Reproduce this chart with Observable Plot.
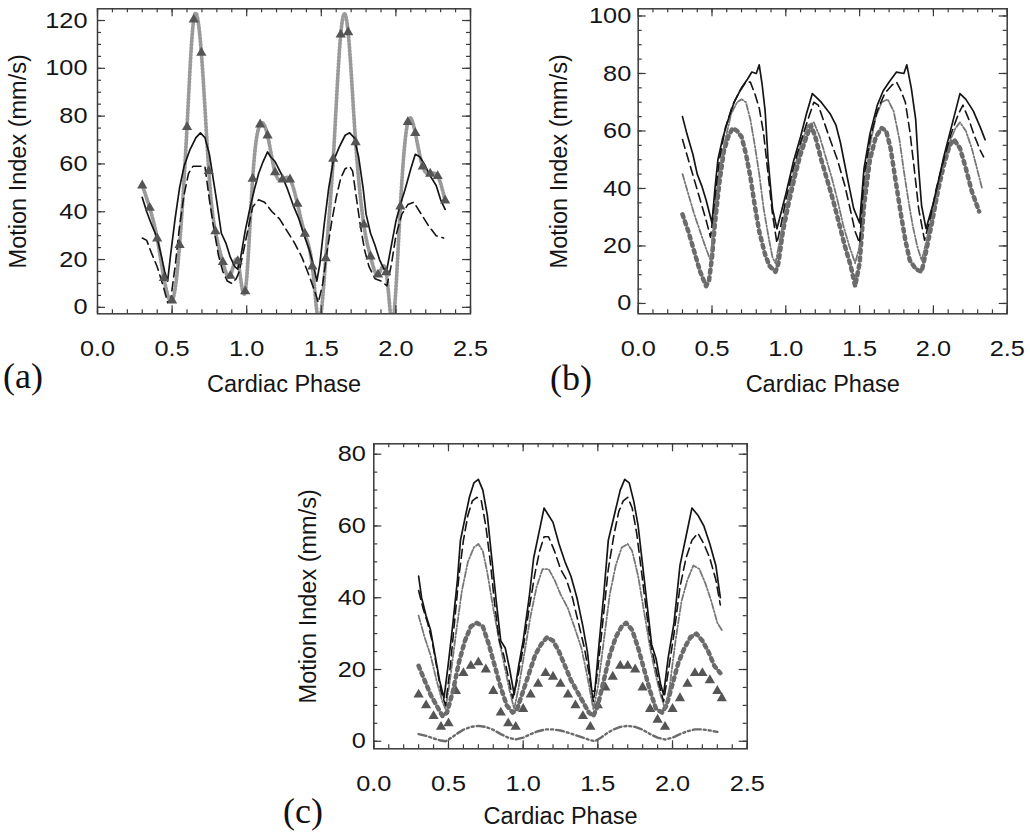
<!DOCTYPE html>
<html><head><meta charset="utf-8">
<script src="https://cdn.jsdelivr.net/npm/d3@7"></script>
<script src="https://cdn.jsdelivr.net/npm/@observablehq/plot@0.6"></script>
<style>
html,body{margin:0;padding:0;background:#fff;}
#fig{position:relative;width:1030px;height:833px;overflow:hidden;font-family:"Liberation Sans",Arial,sans-serif;}
.panel{position:absolute;}
.tag{position:absolute;font-family:"Liberation Serif","DejaVu Serif",serif;font-size:36px;line-height:1;color:#111;white-space:nowrap;}
</style></head><body><div id="fig"></div>
<script>
// ---------- tick labels ----------
const xMajor = [0, 0.5, 1.0, 1.5, 2.0, 2.5];
const xMinor = [0,0.1,0.2,0.3,0.4,0.5,0.6,0.7,0.8,0.9,1.0,1.1,1.2,1.3,1.4,1.5,1.6,1.7,1.8,1.9,2.0,2.1,2.2,2.3,2.4,2.5];
const aYTicks = [0, 20, 40, 60, 80, 100, 120];
const bYTicks = [0, 20, 40, 60, 80, 100];
const cYTicks = [0, 20, 40, 60, 80];
const xTitle = "Cardiac Phase";
const yTitle = "Motion Index (mm/s)";

// ---------- panel (a) ----------
const aSolid = [[0.30,46],[0.33,40],[0.36,35],[0.40,29],[0.43,21],[0.45,15],[0.47,11],[0.49,22],[0.52,37],[0.55,50],[0.58,59],[0.62,66],[0.66,71],[0.69,73],[0.72,71],[0.75,64],[0.78,52],[0.80,44],[0.83,31],[0.86,27],[0.89,21],[0.92,17],[0.94,16],[0.96,21],[0.99,32],[1.02,41],[1.05,49],[1.08,56],[1.11,61],[1.14,65],[1.16,63],[1.19,61],[1.23,56],[1.27,50],[1.31,43],[1.35,37],[1.38,31],[1.42,24],[1.45,17],[1.47,11],[1.49,18],[1.52,35],[1.55,50],[1.58,61],[1.62,67],[1.66,72],[1.69,73],[1.72,71],[1.75,63],[1.78,50],[1.80,39],[1.83,31],[1.86,26],[1.89,20],[1.92,16],[1.94,16],[1.97,26],[2.00,36],[2.03,43],[2.06,49],[2.10,58],[2.13,64],[2.16,63],[2.19,60],[2.23,55],[2.27,51],[2.30,45],[2.33,41]];
const aDashed = [[0.30,29],[0.33,28],[0.36,23],[0.40,17],[0.44,9],[0.47,2],[0.49,3],[0.52,17],[0.55,34],[0.58,47],[0.61,56],[0.64,59],[0.68,59],[0.72,59],[0.75,45],[0.78,33],[0.81,22],[0.84,15],[0.87,11],[0.90,10],[0.93,12],[0.95,15],[0.98,24],[1.01,33],[1.04,42],[1.08,45],[1.12,44],[1.17,40],[1.22,37],[1.27,32],[1.32,27],[1.37,21],[1.42,13],[1.46,6],[1.48,2],[1.51,10],[1.54,24],[1.57,36],[1.60,46],[1.63,54],[1.66,58],[1.69,59],[1.71,57],[1.73,48],[1.76,35],[1.79,24],[1.82,17],[1.86,12],[1.90,11],[1.94,9],[1.97,18],[2.00,30],[2.04,39],[2.08,43],[2.12,44],[2.17,39],[2.22,34],[2.27,30],[2.32,29]];
const aTriangles = [[0.30,51],[0.35,41.6],[0.40,28.8],[0.445,12.3],[0.50,2.8],[0.55,26.1],[0.60,75.4],[0.645,120.4],[0.696,106.5],[0.746,57],[0.79,31.8],[0.84,18.9],[0.89,13.2],[0.94,19.3],[0.99,6.7],[1.04,53.8],[1.09,76.5],[1.14,71.9],[1.19,56.5],[1.24,53.5],[1.29,53.5],[1.34,43.3],[1.39,30.8],[1.44,17.1],[1.485,-6],[1.53,20.5],[1.58,62.1],[1.63,114.1],[1.68,115.1],[1.73,69.1],[1.785,34.6],[1.83,21.3],[1.88,13.7],[1.935,14.7],[1.98,-6],[2.03,42.2],[2.08,77.5],[2.13,72.9],[2.18,58.9],[2.23,55.9],[2.28,54.9],[2.33,44.7]];

// ---------- panel (b) ----------
const bSolid = [[0.30,65],[0.33,59],[0.37,52],[0.40,45],[0.43,41],[0.46,36],[0.50,28],[0.52,40],[0.54,50],[0.57,57],[0.61,64],[0.65,70],[0.70,75],[0.74,78],[0.77,80.5],[0.80,80],[0.82,83],[0.84,76],[0.86,67],[0.88,50],[0.91,33],[0.94,26],[0.97,32],[1.00,38],[1.05,49],[1.10,58],[1.14,66],[1.18,73],[1.20,72],[1.24,70],[1.30,66],[1.34,62],[1.37,56],[1.42,43],[1.46,33],[1.50,28],[1.53,47],[1.57,59],[1.62,69],[1.66,74],[1.70,77],[1.75,80.5],[1.80,80],[1.82,83],[1.85,75],[1.88,64],[1.90,47],[1.92,34],[1.95,26],[2.00,35],[2.04,44],[2.07,51],[2.11,59],[2.14,65],[2.18,73],[2.22,71],[2.27,67],[2.32,61],[2.35,57]];
const bDashed = [[0.30,57],[0.34,50],[0.38,43],[0.42,36],[0.46,29],[0.49,23],[0.52,37],[0.55,50],[0.59,61],[0.64,69],[0.69,74],[0.73,77],[0.76,77],[0.79,73],[0.82,68],[0.85,59],[0.88,45],[0.91,31],[0.94,21],[0.97,28],[1.00,36],[1.05,47],[1.10,56],[1.15,64],[1.19,70],[1.22,69],[1.26,63],[1.30,57],[1.35,50],[1.40,41],[1.44,32],[1.47,25],[1.50,21],[1.53,44],[1.57,57],[1.62,67],[1.67,73],[1.72,76],[1.75,77],[1.78,74],[1.81,70],[1.84,60],[1.87,47],[1.90,33],[1.94,22],[1.98,30],[2.02,40],[2.07,50],[2.12,59],[2.17,66],[2.20,69],[2.24,64],[2.28,58],[2.32,53],[2.34,51]];
const bDashDot = [[0.30,45],[0.34,38],[0.38,31],[0.42,25],[0.46,19],[0.49,15],[0.52,33],[0.55,46],[0.59,57],[0.63,66],[0.67,70],[0.70,71],[0.73,70],[0.76,64],[0.79,55],[0.82,45],[0.85,33],[0.88,24],[0.91,16],[0.93,14],[0.96,22],[1.00,33],[1.05,45],[1.10,55],[1.15,62],[1.19,63],[1.23,58],[1.27,51],[1.31,44],[1.35,36],[1.39,27],[1.43,20],[1.47,14],[1.50,20],[1.53,40],[1.57,55],[1.61,65],[1.65,70],[1.69,71],[1.73,67],[1.77,57],[1.80,46],[1.83,36],[1.86,27],[1.89,20],[1.92,15],[1.95,21],[2.00,33],[2.05,45],[2.10,55],[2.15,61],[2.18,63],[2.22,60],[2.26,54],[2.30,46],[2.33,40]];
const bDotted = [[0.30,31],[0.34,25],[0.38,18],[0.42,11],[0.46,6],[0.48,8],[0.50,16],[0.52,28],[0.55,42],[0.58,53],[0.61,58],[0.64,61],[0.67,60],[0.70,58],[0.73,52],[0.76,44],[0.79,34],[0.82,25],[0.86,17],[0.89,13],[0.93,11],[0.95,14],[0.98,25],[1.02,35],[1.06,44],[1.10,52],[1.14,58],[1.17,62],[1.20,58],[1.24,50],[1.28,43],[1.32,36],[1.36,28],[1.40,20],[1.44,13],[1.47,6],[1.50,14],[1.53,34],[1.57,50],[1.61,58],[1.65,61],[1.68,60],[1.71,54],[1.74,44],[1.78,31],[1.81,22],[1.84,15],[1.88,12],[1.92,11],[1.95,18],[1.99,28],[2.03,39],[2.07,48],[2.11,55],[2.14,57],[2.18,54],[2.22,47],[2.26,39],[2.31,32]];

// ---------- panel (c) ----------
const cSolid = [[0.30,46],[0.32,40],[0.35,35],[0.38,31],[0.41,24],[0.44,17],[0.47,12],[0.50,22],[0.53,33],[0.56,45],[0.58,56],[0.61,62],[0.64,68],[0.67,72],[0.70,73],[0.73,70],[0.76,63],[0.79,51],[0.82,39],[0.85,28],[0.88,26],[0.91,20],[0.94,13],[0.97,21],[1.00,28],[1.04,40],[1.07,51],[1.11,59],[1.14,65],[1.17,63],[1.20,61],[1.24,55],[1.28,50],[1.32,46],[1.36,40],[1.40,32],[1.43,25],[1.46,14],[1.48,14],[1.51,28],[1.54,41],[1.57,56],[1.61,63],[1.65,70],[1.68,73],[1.71,72],[1.74,67],[1.77,60],[1.80,49],[1.83,38],[1.86,27],[1.89,23],[1.92,16],[1.94,13],[1.97,23],[2.01,33],[2.05,49],[2.09,57],[2.13,65],[2.17,63],[2.21,60],[2.25,55],[2.29,49],[2.32,40]];
const cDashed = [[0.30,42],[0.33,37],[0.36,33],[0.39,28],[0.42,21],[0.45,14],[0.48,10],[0.51,20],[0.54,33],[0.57,46],[0.60,56],[0.63,63],[0.66,67],[0.69,68],[0.72,67],[0.75,60],[0.78,50],[0.81,38],[0.84,28],[0.87,24],[0.90,18],[0.93,12],[0.96,17],[1.00,26],[1.04,37],[1.08,47],[1.11,53],[1.14,57],[1.17,57],[1.21,53],[1.25,48],[1.29,45],[1.33,40],[1.37,33],[1.41,26],[1.44,19],[1.47,11],[1.50,20],[1.54,36],[1.57,48],[1.61,58],[1.64,64],[1.67,67],[1.70,68],[1.73,65],[1.76,58],[1.79,48],[1.82,38],[1.85,28],[1.88,22],[1.91,16],[1.94,11],[1.97,19],[2.01,30],[2.05,43],[2.09,51],[2.13,56],[2.17,58],[2.21,55],[2.25,51],[2.29,45],[2.32,38]];
const cDashDot = [[0.30,35],[0.34,29],[0.38,24],[0.42,17],[0.46,11],[0.48,9],[0.51,17],[0.55,30],[0.59,42],[0.63,50],[0.67,54],[0.70,55],[0.73,53],[0.76,47],[0.80,37],[0.84,28],[0.88,20],[0.91,14],[0.94,9],[0.97,15],[1.01,25],[1.05,35],[1.09,43],[1.13,48],[1.17,48],[1.21,45],[1.25,41],[1.30,37],[1.35,31],[1.39,26],[1.43,18],[1.47,9],[1.50,15],[1.54,28],[1.58,41],[1.62,49],[1.66,54],[1.70,55],[1.73,53],[1.77,46],[1.81,36],[1.85,26],[1.89,18],[1.92,13],[1.95,9],[1.98,15],[2.02,28],[2.06,39],[2.10,45],[2.14,49],[2.18,48],[2.22,44],[2.26,39],[2.30,33],[2.33,31]];
const cDotted = [[0.30,21],[0.34,17],[0.38,13],[0.42,10],[0.46,7],[0.49,8],[0.53,14],[0.57,22],[0.61,28],[0.65,32],[0.69,33],[0.73,32],[0.77,27],[0.81,21],[0.85,15],[0.89,10],[0.93,8],[0.96,9],[1.00,14],[1.04,19],[1.08,24],[1.12,27],[1.16,29],[1.20,28],[1.24,25],[1.28,21],[1.32,17],[1.36,14],[1.40,11],[1.44,8],[1.47,7],[1.50,10],[1.54,17],[1.58,24],[1.62,29],[1.66,32],[1.69,33],[1.73,31],[1.77,26],[1.81,20],[1.85,14],[1.89,9],[1.93,8],[1.96,10],[2.00,16],[2.04,22],[2.08,26],[2.12,29],[2.16,30],[2.20,28],[2.24,25],[2.28,21],[2.32,19]];
const cTriangles = [[0.30,13],[0.35,10],[0.40,7],[0.45,4],[0.50,5],[0.55,14],[0.60,19],[0.65,21],[0.70,22],[0.75,20],[0.80,14],[0.85,8],[0.90,5],[0.95,4],[1.00,9],[1.05,13],[1.10,16],[1.15,19],[1.20,18],[1.25,16],[1.30,13],[1.35,10],[1.40,7],[1.45,4],[1.50,10],[1.55,15],[1.60,18],[1.65,21],[1.70,21],[1.75,20],[1.80,15],[1.85,9],[1.90,6],[1.95,4],[2.00,9],[2.05,12],[2.10,16],[2.15,19],[2.20,19],[2.25,17],[2.30,14],[2.33,12]];
const cBottom = [[0.30,2.0],[0.35,1.5],[0.40,0.8],[0.45,0.2],[0.48,0],[0.52,1.0],[0.56,2.2],[0.60,3.2],[0.65,4.0],[0.70,4.3],[0.75,4.0],[0.80,3.2],[0.85,2.0],[0.90,1.0],[0.95,0.5],[1.00,1.0],[1.05,2.0],[1.10,2.8],[1.15,3.3],[1.20,3.3],[1.25,3.0],[1.30,2.4],[1.35,1.7],[1.40,1.0],[1.45,0.3],[1.48,0],[1.52,1.0],[1.56,2.2],[1.60,3.2],[1.65,4.0],[1.70,4.3],[1.75,4.0],[1.80,3.2],[1.85,2.0],[1.90,1.0],[1.95,0.5],[2.00,1.0],[2.05,2.0],[2.10,2.8],[2.15,3.3],[2.20,3.3],[2.25,3.0],[2.30,2.6]];

// ---------- styles ----------
const INK = "#151515", AXIS = "#3a3a3a", GRAY = "#6b6b6b", MGRAY = "#777777", LGRAY = "#9a9a9a";
const TICK_STRETCH = 1.15;
const X = d => d[0], Y = d => d[1];
const solid  = data => Plot.line(data, {x: X, y: Y, stroke: INK, strokeWidth: 1.7, clip: true});
const dashed = data => Plot.line(data, {x: X, y: Y, stroke: INK, strokeWidth: 1.6, strokeDasharray: "9,5", clip: true});
const dashDot = data => Plot.line(data, {x: X, y: Y, stroke: MGRAY, strokeWidth: 1.8, strokeDasharray: "6,2,1.5,2", clip: true});
const thickDot = data => Plot.line(data, {x: X, y: Y, stroke: GRAY, strokeWidth: 4.5, strokeDasharray: "3,4.5", clip: true});
const tris = data => Plot.dot(data, {x: X, y: Y, symbol: "triangle", r: 3.8, fill: "#555", stroke: "none", clip: true});

function panel(cfg) {
  const fw = cfg.width - cfg.ml - cfg.mr;
  const fh = cfg.height - cfg.mt - cfg.mb;
  const yMinor = d3.range(0, cfg.yDomain[1] + 0.001, 5);
  const tk = {stroke: AXIS, strokeWidth: 1.2};
  const svg = Plot.plot({
    width: cfg.width, height: cfg.height,
    marginLeft: cfg.ml, marginRight: cfg.mr, marginTop: cfg.mt, marginBottom: cfg.mb,
    x: {domain: [0, 2.5]},
    y: {domain: cfg.yDomain},
    style: {fontFamily: '"Liberation Sans", Arial, sans-serif', fontSize: "22px", color: INK, background: "transparent", overflow: "visible"},
    marks: [
      ...cfg.marks,
      Plot.ruleX(xMinor, {x: d => d, insetTop: fh - 4, ...tk}),
      Plot.ruleX(xMajor, {x: d => d, insetTop: fh - 8, ...tk}),
      Plot.ruleX(xMinor, {x: d => d, insetBottom: fh - 4, ...tk}),
      Plot.ruleX(xMajor, {x: d => d, insetBottom: fh - 8, ...tk}),
      Plot.ruleY(yMinor, {y: d => d, insetRight: fw - 4, ...tk}),
      Plot.ruleY(cfg.yTicks, {y: d => d, insetRight: fw - 8, ...tk}),
      Plot.ruleY(yMinor, {y: d => d, insetLeft: fw - 4, ...tk}),
      Plot.ruleY(cfg.yTicks, {y: d => d, insetLeft: fw - 8, ...tk}),
      Plot.frame({stroke: AXIS, strokeWidth: 1.5}),
      Plot.axisX(xMajor, {tickSize: 0, tickPadding: 27, tickFormat: d3.format(".1f"), fontSize: 22,
        label: xTitle, labelAnchor: "center", labelArrow: "none", labelOffset: cfg.xLabelOffset}),
      Plot.axisY(cfg.yTicks, {tickSize: 0, tickPadding: cfg.yPad, fontSize: 22,
        label: yTitle, labelAnchor: "center", labelArrow: "none", labelOffset: cfg.yLabelOffset})
    ]
  });
  // the original's tick numerals are set slightly wide: stretch them horizontally about their anchor
  svg.querySelectorAll('g[aria-label$="tick label"] text').forEach(t => {
    const tr = t.getAttribute("transform");
    if (tr) t.setAttribute("transform", tr + ` scale(${TICK_STRETCH},1)`);
    else {
      const x = +(t.getAttribute("x") || 0), y = +(t.getAttribute("y") || 0);
      t.removeAttribute("x"); t.removeAttribute("y");
      t.setAttribute("transform", `translate(${x},${y}) scale(${TICK_STRETCH},1)`);
    }
  });
  // axis titles a touch larger than tick numerals
  svg.querySelectorAll('g[aria-label="x-axis label"], g[aria-label="y-axis label"]').forEach(g => {
    g.setAttribute("font-size", 23.5);
    g.querySelectorAll("text").forEach(t => t.setAttribute("font-size", 23.5));
  });
  svg.classList.add("panel");
  svg.style.left = cfg.left + "px";
  svg.style.top = cfg.top + "px";
  document.getElementById("fig").appendChild(svg);
}

panel({left: 0, top: 0, width: 500, height: 405, ml: 97, mr: 30, mt: 8.3, mb: 91.7,
  yDomain: [-2.7, 124.9], yTicks: aYTicks, yPad: 10, xLabelOffset: 78, yLabelOffset: 88,
  marks: [
    Plot.line(aTriangles, {x: X, y: Y, curve: "natural", stroke: LGRAY, strokeWidth: 3.8, strokeDasharray: "1.2,2.2", clip: true}),
    dashed(aDashed), solid(aSolid), tris(aTriangles)
  ]});

panel({left: 520, top: 0, width: 510, height: 405, ml: 117.7, mr: 23.3, mt: 8.3, mb: 91.7,
  yDomain: [-3.6, 102.5], yTicks: bYTicks, yPad: 7, xLabelOffset: 78, yLabelOffset: 88,
  marks: [thickDot(bDotted), dashDot(bDashDot), dashed(bDashed), solid(bSolid)]});

panel({left: 260, top: 420, width: 520, height: 413, ml: 113.3, mr: 33.3, mt: 23.3, mb: 84.7,
  yDomain: [-2.1, 82.9], yTicks: cYTicks, yPad: 8, xLabelOffset: 75, yLabelOffset: 74,
  marks: [
    Plot.line(cBottom, {x: X, y: Y, stroke: GRAY, strokeWidth: 2.4, strokeDasharray: "8,3,2,3,2,3", clip: true}),
    tris(cTriangles), thickDot(cDotted), dashDot(cDashDot), dashed(cDashed), solid(cSolid)
  ]});

// panel tags
const tags = [["(a)", 3, 358], ["(b)", 550, 360], ["(c)", 283, 793]];
for (const [t, l, tp] of tags) {
  const d = document.createElement("div");
  d.className = "tag"; d.textContent = t;
  d.style.left = l + "px"; d.style.top = tp + "px";
  document.getElementById("fig").appendChild(d);
}
</script></body></html>
